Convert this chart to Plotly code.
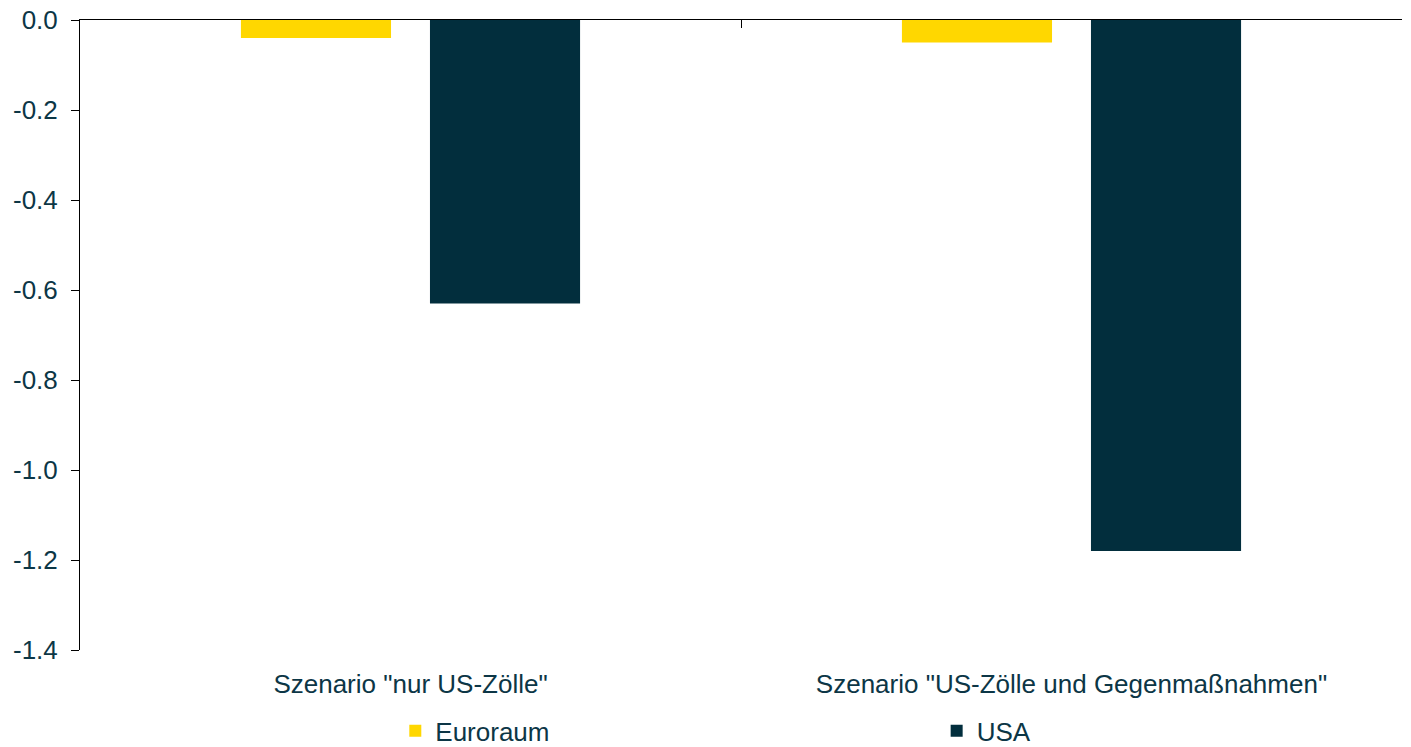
import plotly.graph_objects as go

categories = ['Szenario "nur US-Zölle"', 'Szenario "US-Zölle und Gegenmaßnahmen"']
euroraum = [-0.04, -0.05]
usa = [-0.63, -1.18]
y_tickvals = [0.0, -0.2, -0.4, -0.6, -0.8, -1.0, -1.2, -1.4]
y_ticktext = ["0.0", "-0.2", "-0.4", "-0.6", "-0.8", "-1.0", "-1.2", "-1.4"]

text_color = "#0c3646"
fs = 26
fig = go.Figure()
fig.add_trace(go.Bar(x=categories, y=euroraum, name="Euroraum", legend="legend",
                     marker=dict(color="#FFD700", line_width=0)))
fig.add_trace(go.Bar(x=categories, y=usa, name="USA", legend="legend2",
                     marker=dict(color="#022e3d", line_width=0)))
# invisible trace for top axis
fig.add_trace(go.Bar(x=categories, y=[None, None], xaxis="x2", showlegend=False, hoverinfo="skip"))

fig.update_layout(
    width=1411, height=747,
    margin=dict(l=80, r=9, t=20, b=97, autoexpand=False),
    paper_bgcolor="white", plot_bgcolor="white",
    barmode="group", bargap=0.428, bargroupgap=0.206,
    font=dict(family="Liberation Sans, Arial", size=fs, color=text_color),
    xaxis=dict(showline=False, ticks="outside", ticklen=11, tickcolor="rgba(0,0,0,0)",
               showgrid=False, zeroline=False, automargin=False,
               tickfont=dict(size=fs, color=text_color)),
    xaxis2=dict(overlaying="x", side="top", matches="x", showline=True, linecolor="black", linewidth=1,
                ticks="inside", ticklen=8, tickcolor="black", tickson="boundaries",
                showticklabels=False, showgrid=False, zeroline=False, anchor="y", automargin=False),
    yaxis=dict(range=[-1.4, 0], tickvals=y_tickvals, ticktext=y_ticktext, showline=True,
               linecolor="black", linewidth=1, ticks="outside", ticklen=8, tickcolor="black",
               showgrid=False, zeroline=False, automargin=False, ticklabelstandoff=8,
               ticklabeloverflow="allow",
               tickfont=dict(size=fs, color=text_color)),
    legend=dict(orientation="h", x=0.2385, xanchor="left", y=-0.091, yanchor="top",
                font=dict(size=fs, color=text_color), itemwidth=30),
    legend2=dict(orientation="h", x=0.648, xanchor="left", y=-0.091, yanchor="top",
                 font=dict(size=fs, color=text_color), itemwidth=30),
)
fig.write_html("out.html", config={"displayModeBar": False},
               post_script="document.body.style.margin='0';")
